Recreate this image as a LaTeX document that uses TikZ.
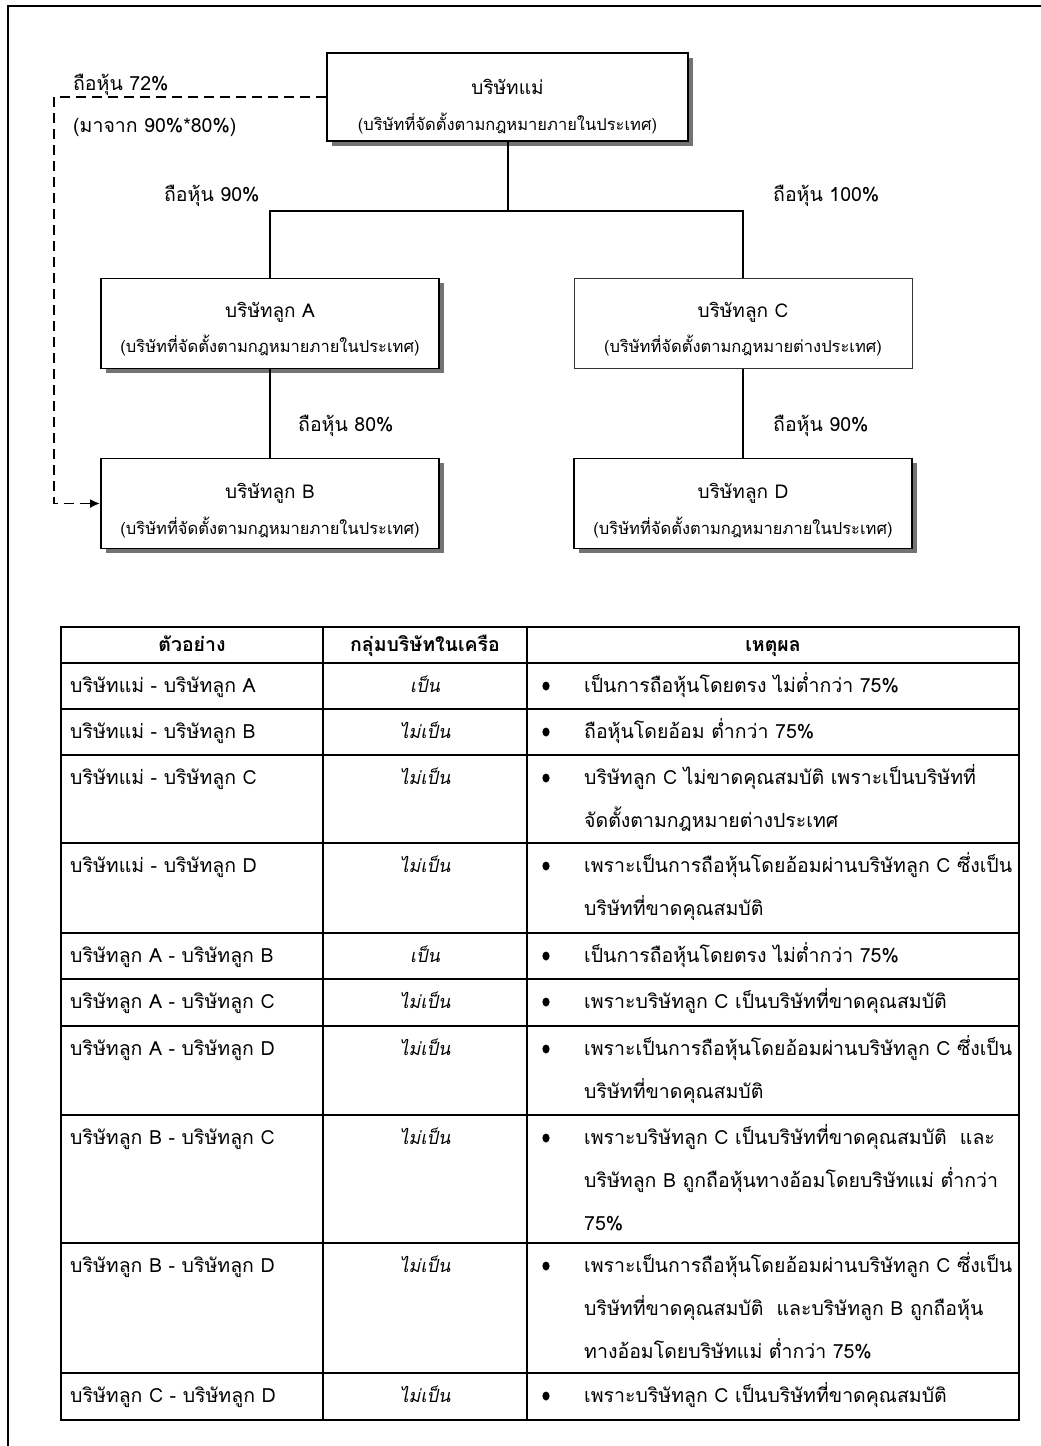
\documentclass[tikz,border=0pt]{standalone}
\usepackage{fontspec}
\setmainfont[Script=Thai]{Loma}
\newfontfamily\slantfont[Script=Thai,FakeSlant=0.2]{Loma}
\usetikzlibrary{calc,arrows.meta,shadows}

\tikzset{
  company/.style={draw=black, line width=1.9pt, fill=white, inner sep=0,
    minimum width=338, minimum height=90,
    drop shadow={shadow xshift=4.5pt, shadow yshift=-4.5pt, opacity=1, fill=black!55}},
  plaincompany/.style={draw=black!80, line width=1pt, fill=white, inner sep=0,
    minimum width=338, minimum height=90},
  boxtitle/.style={font=\fontsize{19}{22}\selectfont, anchor=base, inner sep=0},
  boxsub/.style={font=\fontsize{16.5}{20}\selectfont, anchor=base, inner sep=0},
  share/.style={font=\fontsize{19.5}{23}\selectfont, anchor=base west, inner sep=0},
  link/.style={line width=2pt},
  indirect/.style={line width=1.8pt, dash pattern=on 10pt off 6pt,
    -{Latex[length=10pt,width=9pt]}},
  hdr/.style={font=\fontsize{19.5}{23}\selectfont\bfseries, anchor=base, inner sep=0},
  leftcell/.style={font=\fontsize{19.5}{23}\selectfont, anchor=base west, inner sep=0},
  midcell/.style={font=\fontsize{18}{22}\selectfont\slantfont, anchor=base, inner sep=0},
  reasoncell/.style={anchor=base west, inner sep=0},
  rule/.style={line width=2pt},
  thinrule/.style={line width=1.1pt},
}
\newcommand{\reason}[1]{\parbox[t]{470pt}{\fontsize{19.5}{43}\selectfont #1}}

\begin{document}
\begin{tikzpicture}[x=1pt, y=-1pt]
\useasboundingbox (0,0) rectangle (1041,1446);

% page frame
\draw[line width=2.4pt] (8,1446) -- (8,6) -- (1041,6);

% companies
\node[company, minimum width=361, minimum height=88] (P) at (507.5,97) {};
\node[company] (A) at (270,323.5) {};
\node[plaincompany] (C) at (743,323.5) {};
\node[company] (B) at (270,503.5) {};
\node[company] (D) at (743,503.5) {};

\node[boxtitle] (Pt) at (507.5,94) {บริษัทแม่};
\node[boxsub]   (Ps) at (507.5,130) {(บริษัทที่จัดตั้งตามกฎหมายภายในประเทศ)};
\node[boxtitle] (At) at (270,317) {บริษัทลูก A};
\node[boxsub]   (As) at (270,352) {(บริษัทที่จัดตั้งตามกฎหมายภายในประเทศ)};
\node[boxtitle] (Ct) at (743,317) {บริษัทลูก C};
\node[boxsub]   (Cs) at (743,352) {(บริษัทที่จัดตั้งตามกฎหมายต่างประเทศ)};
\node[boxtitle] (Bt) at (270,498) {บริษัทลูก B};
\node[boxsub]   (Bs) at (270,534) {(บริษัทที่จัดตั้งตามกฎหมายภายในประเทศ)};
\node[boxtitle] (Dt) at (743,498) {บริษัทลูก D};
\node[boxsub]   (Ds) at (743,534) {(บริษัทที่จัดตั้งตามกฎหมายภายในประเทศ)};

% ownership links
\coordinate (fork) at (507.5,211);
\draw[link] (P.south) -- (fork);
\draw[link] (A.north) |- (fork) -| (C.north);
\draw[link] (A.south) -- (B.north);
\draw[link] (C.south) -- (D.north);
\draw[indirect] (P.west) -- ++(-272,0) |- (B.west);

% share labels
\node[share] (s72)  at (73,90)   {ถือหุ้น 72\%};
\node[share] (sfrm) at (73,132)  {(มาจาก 90\%*80\%)};
\node[share] (s90a) at (164,201) {ถือหุ้น 90\%};
\node[share] (s100) at (773,201) {ถือหุ้น 100\%};
\node[share] (s80)  at (298,431) {ถือหุ้น 80\%};
\node[share] (s90b) at (773,431) {ถือหุ้น 90\%};

% table grid
\draw[rule] (61,627) rectangle (1019,1420);
\foreach \yy in {663,709,755,843,933,979,1026,1115,1243,1373}
  \draw[rule] (61,\yy) -- (1019,\yy);
\draw[thinrule] (323,627) -- (323,1420);
\draw[thinrule] (527,627) -- (527,1420);

% header
\node[hdr] (h1) at (192,651) {ตัวอย่าง};
\node[hdr] (h2) at (425,651) {กลุ่มบริษัทในเครือ};
\node[hdr] (h3) at (773,651) {เหตุผล};

% first column
\node[leftcell] (r1a)  at (70,692)  {บริษัทแม่ - บริษัทลูก A};
\node[leftcell] (r2a)  at (70,738)  {บริษัทแม่ - บริษัทลูก B};
\node[leftcell] (r3a)  at (70,784)  {บริษัทแม่ - บริษัทลูก C};
\node[leftcell] (r4a)  at (70,872)  {บริษัทแม่ - บริษัทลูก D};
\node[leftcell] (r5a)  at (70,962)  {บริษัทลูก A - บริษัทลูก B};
\node[leftcell] (r6a)  at (70,1008) {บริษัทลูก A - บริษัทลูก C};
\node[leftcell] (r7a)  at (70,1055) {บริษัทลูก A - บริษัทลูก D};
\node[leftcell] (r8a)  at (70,1144) {บริษัทลูก B - บริษัทลูก C};
\node[leftcell] (r9a)  at (70,1272) {บริษัทลูก B - บริษัทลูก D};
\node[leftcell] (r10a) at (70,1402) {บริษัทลูก C - บริษัทลูก D};

% second column
\node[midcell] (r1b)  at (425,692)  {เป็น};
\node[midcell] (r2b)  at (425,738)  {ไม่เป็น};
\node[midcell] (r3b)  at (425,784)  {ไม่เป็น};
\node[midcell] (r4b)  at (425,872)  {ไม่เป็น};
\node[midcell] (r5b)  at (425,962)  {เป็น};
\node[midcell] (r6b)  at (425,1008) {ไม่เป็น};
\node[midcell] (r7b)  at (425,1055) {ไม่เป็น};
\node[midcell] (r8b)  at (425,1144) {ไม่เป็น};
\node[midcell] (r9b)  at (425,1272) {ไม่เป็น};
\node[midcell] (r10b) at (425,1402) {ไม่เป็น};

% bullets
\foreach \yy in {686,732,778,866,956,1002,1049,1138,1266,1396}
  \fill (546,\yy) ellipse (3.6 and 4.5);

% third column
\node[reasoncell] (r1c)  at (584,692)  {\reason{เป็นการถือหุ้นโดยตรง ไม่ต่ำกว่า 75\%}};
\node[reasoncell] (r2c)  at (584,738)  {\reason{ถือหุ้นโดยอ้อม ต่ำกว่า 75\%}};
\node[reasoncell] (r3c)  at (584,784)  {\reason{บริษัทลูก C ไม่ขาดคุณสมบัติ เพราะเป็นบริษัทที่\\จัดตั้งตามกฎหมายต่างประเทศ}};
\node[reasoncell] (r4c)  at (584,872)  {\reason{เพราะเป็นการถือหุ้นโดยอ้อมผ่านบริษัทลูก C ซึ่งเป็น\\บริษัทที่ขาดคุณสมบัติ}};
\node[reasoncell] (r5c)  at (584,962)  {\reason{เป็นการถือหุ้นโดยตรง ไม่ต่ำกว่า 75\%}};
\node[reasoncell] (r6c)  at (584,1008) {\reason{เพราะบริษัทลูก C เป็นบริษัทที่ขาดคุณสมบัติ}};
\node[reasoncell] (r7c)  at (584,1055) {\reason{เพราะเป็นการถือหุ้นโดยอ้อมผ่านบริษัทลูก C ซึ่งเป็น\\บริษัทที่ขาดคุณสมบัติ}};
\node[reasoncell] (r8c)  at (584,1144) {\reason{เพราะบริษัทลูก C เป็นบริษัทที่ขาดคุณสมบัติ~ และ\\บริษัทลูก B ถูกถือหุ้นทางอ้อมโดยบริษัทแม่ ต่ำกว่า\\75\%}};
\node[reasoncell] (r9c)  at (584,1272) {\reason{เพราะเป็นการถือหุ้นโดยอ้อมผ่านบริษัทลูก C ซึ่งเป็น\\บริษัทที่ขาดคุณสมบัติ~ และบริษัทลูก B ถูกถือหุ้น\\ทางอ้อมโดยบริษัทแม่ ต่ำกว่า 75\%}};
\node[reasoncell] (r10c) at (584,1402) {\reason{เพราะบริษัทลูก C เป็นบริษัทที่ขาดคุณสมบัติ}};
\end{tikzpicture}
\end{document}
